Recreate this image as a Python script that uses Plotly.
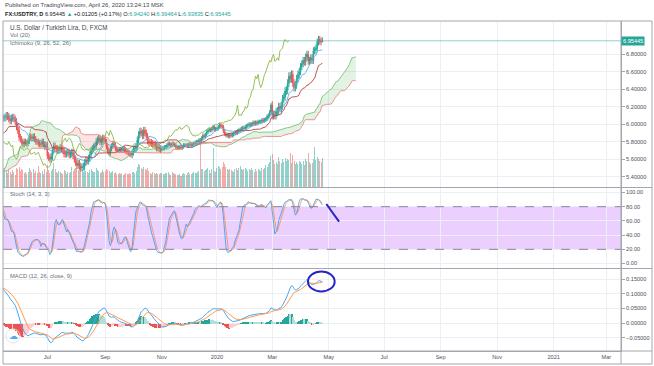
import numpy as np
import pandas as pd
import plotly.graph_objects as go

# ---------------- data (FX:USDTRY daily, FXCM) ----------------
# warm-up history (left of the visible window, needed by the indicators)
close_2019_02 = [5.18, 5.19, 5.22, 5.21, 5.24, 5.27, 5.27, 5.26, 5.28, 5.28, 5.27, 5.30, 5.32, 5.30, 5.29, 5.29, 5.28, 5.30, 5.32, 5.34]
close_2019_03 = [5.37, 5.41, 5.43, 5.42, 5.48, 5.50, 5.47, 5.46, 5.44, 5.43, 5.45, 5.42, 5.45, 5.48, 5.44, 5.72, 5.60, 5.38, 5.30, 5.41, 5.57]
close_2019_04 = [5.60, 5.63, 5.60, 5.62, 5.65, 5.64, 5.67, 5.68, 5.74, 5.78, 5.79, 5.81, 5.82, 5.81, 5.79, 5.81, 5.85, 5.91, 5.94, 5.98, 5.96, 5.96]
close_2019_05a = [5.98, 5.99, 6.00, 6.07, 6.13, 6.16, 6.12, 6.10, 6.07]
# visible window
close_2019_05 = [6.07, 6.08, 6.10, 6.09, 6.06, 6.04, 6.07, 6.08, 6.06, 6.03, 5.97, 5.93, 5.85, 5.83]
close_2019_06 = [5.80, 5.77, 5.80, 5.79, 5.78, 5.81, 5.86, 5.85, 5.84, 5.86, 5.83, 5.80, 5.80, 5.78, 5.77, 5.77, 5.80, 5.77, 5.74, 5.76]
close_2019_07 = [5.64, 5.62, 5.60, 5.63, 5.70, 5.75, 5.72, 5.72, 5.70, 5.71, 5.73, 5.72, 5.70, 5.66, 5.66, 5.67, 5.68, 5.65, 5.66, 5.68, 5.64, 5.60, 5.56]
close_2019_08 = [5.53, 5.55, 5.52, 5.50, 5.51, 5.52, 5.56, 5.59, 5.58, 5.61, 5.65, 5.70, 5.72, 5.74, 5.75, 5.80, 5.82, 5.84, 5.80, 5.82, 5.84, 5.83]
close_2019_09 = [5.80, 5.74, 5.69, 5.67, 5.72, 5.75, 5.78, 5.76, 5.72, 5.71, 5.70, 5.71, 5.71, 5.70, 5.72, 5.71, 5.69, 5.68, 5.67, 5.66, 5.65]
close_2019_10 = [5.68, 5.71, 5.72, 5.74, 5.82, 5.88, 5.92, 5.90, 5.87, 5.93, 5.90, 5.86, 5.81, 5.79, 5.79, 5.78, 5.77, 5.77, 5.75, 5.73, 5.74, 5.72, 5.71]
close_2019_11 = [5.72, 5.72, 5.74, 5.74, 5.76, 5.78, 5.77, 5.76, 5.78, 5.77, 5.76, 5.74, 5.73, 5.73, 5.74, 5.73, 5.74, 5.76, 5.76, 5.76, 5.75]
close_2019_12 = [5.77, 5.77, 5.76, 5.77, 5.78, 5.79, 5.80, 5.80, 5.82, 5.81, 5.84, 5.87, 5.86, 5.88, 5.91, 5.93, 5.94, 5.93, 5.95, 5.97, 5.94, 5.95]
close_2020_01 = [5.95, 5.97, 5.99, 5.98, 5.97, 5.92, 5.89, 5.87, 5.88, 5.86, 5.88, 5.87, 5.88, 5.89, 5.91, 5.90, 5.92, 5.93, 5.94, 5.95, 5.96, 5.95, 5.97]
close_2020_02 = [5.98, 5.99, 6.00, 5.99, 6.00, 6.02, 6.01, 6.02, 6.01, 6.03, 6.03, 6.03, 6.05, 6.04, 6.05, 6.06, 6.09, 6.10, 6.14, 6.22]
close_2020_03 = [6.10, 6.11, 6.10, 6.14, 6.15, 6.20, 6.18, 6.21, 6.29, 6.31, 6.38, 6.39, 6.47, 6.55, 6.52, 6.57, 6.47, 6.42, 6.45, 6.52, 6.57, 6.60]
close_2020_04 = [6.66, 6.69, 6.73, 6.71, 6.77, 6.80, 6.72, 6.73, 6.76, 6.73, 6.84, 6.85, 6.87, 6.94, 6.97, 6.95, 6.9424, 6.95445]
last_bar_ohlc = [6.94240, 6.99464, 6.93835, 6.95445]

vol_2019_05 = [48, 52, 45, 40, 50, 44, 38, 47, 42, 35, 55, 50, 58, 46]
vol_2019_06 = [52, 48, 40, 44, 38, 42, 55, 47, 43, 50, 41, 46, 39, 60, 44, 40, 45, 38, 50, 42]
vol_2019_07 = [62, 48, 40, 45, 52, 68, 50, 44, 41, 46, 43, 40, 38, 47, 45, 36, 42, 40, 44, 58, 46, 50, 54]
vol_2019_08 = [55, 47, 52, 60, 48, 44, 50, 45, 42, 40, 47, 52, 46, 44, 43, 55, 49, 45, 41, 44, 48, 42]
vol_2019_09 = [46, 52, 48, 45, 40, 43, 46, 41, 44, 38, 36, 40, 37, 39, 35, 38, 41, 37, 36, 40, 38]
vol_2019_10 = [42, 44, 40, 46, 58, 66, 62, 55, 50, 57, 52, 48, 54, 46, 40, 38, 42, 39, 37, 40, 36, 38, 41]
vol_2019_11 = [40, 36, 38, 41, 39, 42, 37, 35, 44, 40, 38, 36, 35, 34, 38, 33, 36, 40, 37, 35, 39]
vol_2019_12 = [42, 38, 36, 40, 44, 39, 41, 43, 46, 125, 52, 50, 45, 48, 50, 54, 47, 40, 52, 110, 46, 44]
vol_2020_01 = [55, 60, 58, 52, 56, 70, 65, 58, 50, 48, 52, 47, 45, 44, 50, 53, 49, 55, 60, 52, 48, 50, 54]
vol_2020_02 = [50, 46, 52, 48, 55, 47, 44, 50, 46, 52, 48, 45, 53, 50, 55, 62, 58, 65, 70, 88]
vol_2020_03 = [92, 75, 66, 70, 64, 85, 72, 68, 78, 70, 82, 74, 80, 76, 95, 68, 90, 72, 66, 70, 64, 72]
vol_2020_04 = [70, 66, 74, 62, 78, 72, 96, 70, 64, 68, 80, 112, 76, 84, 80, 72, 70, 82]

segments = [
    ("2019-02-01", "2019-02-28", close_2019_02, None, 0.03),
    ("2019-03-01", "2019-03-29", close_2019_03, None, 0.05),
    ("2019-04-01", "2019-04-30", close_2019_04, None, 0.04),
    ("2019-05-01", "2019-05-13", close_2019_05a, None, 0.04),
    ("2019-05-14", "2019-05-31", close_2019_05, vol_2019_05, 0.04),
    ("2019-06-01", "2019-06-30", close_2019_06, vol_2019_06, 0.035),
    ("2019-07-01", "2019-07-31", close_2019_07, vol_2019_07, 0.04),
    ("2019-08-01", "2019-08-31", close_2019_08, vol_2019_08, 0.04),
    ("2019-09-01", "2019-09-30", close_2019_09, vol_2019_09, 0.03),
    ("2019-10-01", "2019-10-31", close_2019_10, vol_2019_10, 0.04),
    ("2019-11-01", "2019-11-30", close_2019_11, vol_2019_11, 0.022),
    ("2019-12-01", "2019-12-31", close_2019_12, vol_2019_12, 0.022),
    ("2020-01-01", "2020-01-31", close_2020_01, vol_2020_01, 0.022),
    ("2020-02-01", "2020-02-29", close_2020_02, vol_2020_02, 0.022),
    ("2020-03-01", "2020-03-31", close_2020_03, vol_2020_03, 0.045),
    ("2020-04-01", "2020-04-24", close_2020_04, vol_2020_04, 0.04),
]

price_ticks = [5.4, 5.6, 5.8, 6.0, 6.2, 6.4, 6.6, 6.8]
stoch_ticks = [0, 20, 40, 60, 80, 100]
macd_ticks = [-0.05, 0.0, 0.05, 0.10, 0.15]
x_tick_dates = ["2019-07-01", "2019-09-02", "2019-11-01", "2020-01-01", "2020-03-02", "2020-05-01",
                "2020-07-01", "2020-09-01", "2020-11-02", "2021-01-01", "2021-03-01"]
x_tick_text = ["Jul", "Sep", "Nov", "2020", "Mar", "May", "Jul", "Sep", "Nov", "2021", "Mar"]
x_range = ["2019-05-13 12:00", "2021-03-16 09:00"]

# ---------------- assemble OHLC ----------------
dates, closes, vols, wicks = [], [], [], []
for s, e, c, v, w in segments:
    d = pd.bdate_range(s, e)
    assert len(d) == len(c), (s, len(d), len(c))
    dates += list(d)
    closes += c
    vols += (v if v is not None else [np.nan] * len(c))
    wicks += [w] * len(c)
dates = pd.DatetimeIndex(dates)
C = np.array(closes, float)
O = np.r_[C[0], C[:-1]]
Wk = np.array(wicks)
Hh = np.maximum(O, C) + Wk
Ll = np.minimum(O, C) - Wk
O[-1], Hh[-1], Ll[-1], C[-1] = last_bar_ohlc
V = np.array(vols, float)
N = len(C)

UP, DN = "#26a69a", "#ef5350"
sH, sL, sC = pd.Series(Hh), pd.Series(Ll), pd.Series(C)

# Ichimoku (9, 26, 52, 26)
def mid(n):
    return ((sH.rolling(n, min_periods=1).max() + sL.rolling(n, min_periods=1).min()) / 2).values
conv, base, spanb = mid(9), mid(26), mid(52)
leada = (conv + base) / 2
DISP = 26
future = pd.bdate_range(dates[-1] + pd.Timedelta(days=1), periods=DISP)
all_dates = dates.append(future)
lead_x = all_dates[DISP:DISP + N]
lag_x = all_dates[:N - DISP]
lag_y = C[DISP:]

# Stoch (14, 3, 3)
ll14 = sL.rolling(14).min(); hh14 = sH.rolling(14).max()
k = (100 * (sC - ll14) / (hh14 - ll14)).rolling(3).mean()
dline = k.rolling(3).mean()

# MACD (12, 26, close, 9)
macd = sC.ewm(span=12, adjust=False).mean() - sC.ewm(span=26, adjust=False).mean()
sig = macd.ewm(span=9, adjust=False).mean()
hist = (macd - sig).values
hcol = []
for i, hv in enumerate(hist):
    prev = hist[i - 1] if i else hv
    if hv >= 0:
        hcol.append("#26a69a" if hv > prev else "#b2dfdb")
    else:
        hcol.append("#ef5350" if hv < prev else "#ffcdd2")

# ---------------- figure ----------------
W, Hgt = 654, 366
ML, MR, MT, MB = 3, 33, 21, 15
PW, PH = W - ML - MR, Hgt - MT - MB
def px(x, y):
    return (x - ML) / PW, (Hgt - MB - y) / PH
main_lo = px(0, 187.5)[1]
stoch_lo = px(0, 268.5)[1]

GRID = "#eceff4"
FRAME = "#a3a6ad"
TXT = "#4c525e"
FONT = "Liberation Sans"
DAY = 86400000

fig = go.Figure()
# volume (base axis of main pane)
vis = ~np.isnan(V)
vcol = np.where(C >= O, "rgba(38,166,154,0.5)", "rgba(239,83,80,0.5)")
fig.add_trace(go.Bar(x=dates[vis], y=V[vis], marker=dict(color=list(vcol[vis]), line=dict(width=0)),
                     width=0.78 * DAY, xaxis="x", yaxis="y", hoverinfo="skip"))

# cloud fills
lmax = np.maximum(leada, spanb)
fig.add_trace(go.Scatter(x=lead_x, y=spanb, mode="lines", line=dict(width=0), xaxis="x", yaxis="y4", hoverinfo="skip"))
fig.add_trace(go.Scatter(x=lead_x, y=lmax, mode="lines", line=dict(width=0), fill="tonexty",
                         fillcolor="rgba(76,175,80,0.16)", xaxis="x", yaxis="y4", hoverinfo="skip"))
fig.add_trace(go.Scatter(x=lead_x, y=leada, mode="lines", line=dict(width=0), xaxis="x", yaxis="y4", hoverinfo="skip"))
fig.add_trace(go.Scatter(x=lead_x, y=lmax, mode="lines", line=dict(width=0), fill="tonexty",
                         fillcolor="rgba(244,67,54,0.14)", xaxis="x", yaxis="y4", hoverinfo="skip"))
# ichimoku lines
for xx, yy, col in [(lead_x, leada, "#7cc27f"), (lead_x, spanb, "#e88a86"),
                    (lag_x, lag_y, "#8bb84a"), (dates, base, "#b5423e"), (dates, conv, "#5aaee8")]:
    fig.add_trace(go.Scatter(x=xx, y=yy, mode="lines", line=dict(color=col, width=0.9),
                             xaxis="x", yaxis="y4", hoverinfo="skip"))

# candles
fig.add_trace(go.Candlestick(x=dates, open=O, high=Hh, low=Ll, close=C, xaxis="x", yaxis="y4",
                             increasing=dict(line=dict(color=UP, width=1), fillcolor=UP),
                             decreasing=dict(line=dict(color=DN, width=1), fillcolor=DN),
                             whiskerwidth=0, hoverinfo="skip"))

# stoch
fig.add_trace(go.Scatter(x=dates, y=k, mode="lines", line=dict(color="rgba(33,150,243,0.75)", width=1),
                         xaxis="x", yaxis="y2", hoverinfo="skip"))
fig.add_trace(go.Scatter(x=dates, y=dline, mode="lines", line=dict(color="rgba(255,109,0,0.55)", width=1),
                         xaxis="x", yaxis="y2", hoverinfo="skip"))

# macd
fig.add_trace(go.Bar(x=dates, y=hist, marker=dict(color=hcol, line=dict(width=0)), width=0.78 * DAY,
                     xaxis="x", yaxis="y3", hoverinfo="skip"))
fig.add_trace(go.Scatter(x=dates, y=macd, mode="lines", line=dict(color="#4aa6f0", width=1),
                         xaxis="x", yaxis="y3", hoverinfo="skip"))
fig.add_trace(go.Scatter(x=dates, y=sig, mode="lines", line=dict(color="#ff9a50", width=1),
                         xaxis="x", yaxis="y3", hoverinfo="skip"))

tickfont = dict(family=FONT, size=5.6, color=TXT)
yax_common = dict(side="right", showgrid=True, gridcolor=GRID, zeroline=False, ticks="outside",
                  ticklen=3, tickcolor=FRAME, tickfont=tickfont, showline=True, linecolor=FRAME,
                  fixedrange=True, automargin=False)
fig.update_layout(
    template="none",
    width=W, height=Hgt, margin=dict(l=ML, r=MR, t=MT, b=MB, autoexpand=False),
    paper_bgcolor="white", plot_bgcolor="white", showlegend=False, bargap=0,
    xaxis=dict(type="date", domain=[0, 1], anchor="y3", range=x_range,
               rangebreaks=[dict(bounds=["sat", "mon"])],
               tickmode="array", tickvals=x_tick_dates, ticktext=x_tick_text,
               showgrid=True, gridcolor=GRID, zeroline=False, showline=True, linecolor=FRAME,
               ticks="", tickfont=tickfont, rangeslider=dict(visible=False), automargin=False),
    yaxis=dict(domain=[main_lo, 1], range=[0, 460], visible=False, fixedrange=True, automargin=False),
    yaxis4=dict(overlaying="y", range=[5.276, 7.181], tickvals=price_ticks, tickformat=".5f", **yax_common),
    yaxis2=dict(domain=[stoch_lo, main_lo], range=[-7, 107], tickvals=stoch_ticks, tickformat=".2f", **yax_common),
    yaxis3=dict(domain=[0, stoch_lo], range=[-0.0956, 0.187], tickvals=macd_ticks, tickformat=".5f", **yax_common),
)

shapes = []
# stoch band and levels
shapes.append(dict(type="rect", xref="paper", yref="y2", x0=0, x1=1, y0=20, y1=80,
                   fillcolor="rgba(153,21,255,0.2)", line=dict(width=0), layer="below"))
for lv in (20, 80):
    shapes.append(dict(type="line", xref="paper", yref="y2", x0=0, x1=1, y0=lv, y1=lv,
                       line=dict(color="#8c82a0", width=1, dash="dash")))
# last price line
shapes.append(dict(type="line", xref="paper", yref="y4", x0=0, x1=1, y0=last_bar_ohlc[3], y1=last_bar_ohlc[3],
                   line=dict(color="rgba(38,166,154,0.5)", width=1)))
# pane separators and outer frame
xr = px(652, 0)[0]
for yy in (main_lo, stoch_lo):
    shapes.append(dict(type="line", xref="paper", yref="paper", x0=0, x1=xr, y0=yy, y1=yy,
                       line=dict(color=FRAME, width=1)))
shapes.append(dict(type="line", xref="paper", yref="paper", x0=0, x1=xr, y0=0, y1=0, line=dict(color=FRAME, width=1)))
shapes.append(dict(type="rect", xref="paper", yref="paper", x0=0, x1=xr, y0=px(0, 364)[1], y1=1,
                   line=dict(color=FRAME, width=1)))
shapes.append(dict(type="line", xref="paper", yref="paper", x0=1, x1=1, y0=px(0, 364)[1], y1=1,
                   line=dict(color=FRAME, width=1)))
# hand-drawn marks
shapes.append(dict(type="line", xref="x", yref="y2", x0="2020-04-29 02:00", y0=83.8, x1="2020-05-13", y1=58.9,
                   line=dict(color="#2424c8", width=2)))
shapes.append(dict(type="circle", xref="x", yref="y3", x0="2020-04-08 19:00", x1="2020-05-07 14:00",
                   y0=0.1082, y1=0.1767, line=dict(color="#2424c8", width=2)))
cx, cy = px(13, 336)
shapes.append(dict(type="circle", xref="paper", yref="paper", x0=cx - 7 / PW, x1=cx + 7 / PW,
                   y0=cy - 7 / PH, y1=cy + 7 / PH, line=dict(color="#e3e6ec", width=1)))
fig.update_layout(shapes=shapes)

ann = []
def text(x, y, s, size=5.8, color=TXT):
    ax, ay = px(x, y)
    ann.append(dict(xref="paper", yref="paper", x=ax, y=ay, text=s, showarrow=False, xanchor="left",
                    yanchor="middle", font=dict(family=FONT, size=size, color=color)))

text(3, 5, "Published on TradingView.com, April 26, 2020 13:24:13 MSK", 5.9, "#434651")
T = "#26a69a"
text(3, 14, "<b>FX:USDTRY, D</b> 6.95445 <span style='color:%s'>▲</span> +0.01205 (+0.17%%) "
     "O:<span style='color:%s'>6.94240</span> H:<span style='color:%s'>6.99464</span> "
     "L:<span style='color:%s'>6.93835</span> C:<span style='color:%s'>6.95445</span>" % (T, T, T, T, T),
     5.6, "#131722")
text(8, 27, "U.S. Dollar / Turkish Lira, D, FXCM", 6.3, "#434651")
text(8, 35, "Vol (20)", 5.8, "#6a6d78")
text(8, 43, "Ichimoku (9, 26, 52, 26)", 5.8, "#6a6d78")
text(8, 194, "Stoch (14, 3, 3)", 5.8, "#6a6d78")
text(8, 276, "MACD (12, 26, close, 9)", 5.8, "#6a6d78")
ann.append(dict(xref="paper", yref="y4", x=1.0, y=last_bar_ohlc[3], text="6.95445", showarrow=False,
                xanchor="left", yanchor="middle", bgcolor=T, borderpad=1,
                font=dict(family=FONT, size=5.6, color="white")))
ann.append(dict(xref="paper", yref="paper", x=cx, y=cy, text="☁", showarrow=False, xanchor="center",
                yanchor="middle", font=dict(family="DejaVu Sans", size=9, color="#5aa9e6")))
fig.update_layout(annotations=ann)

fig.write_html("out.html", config={"displayModeBar": False},
               post_script="document.body.style.margin='0';document.body.style.overflow='hidden';")
